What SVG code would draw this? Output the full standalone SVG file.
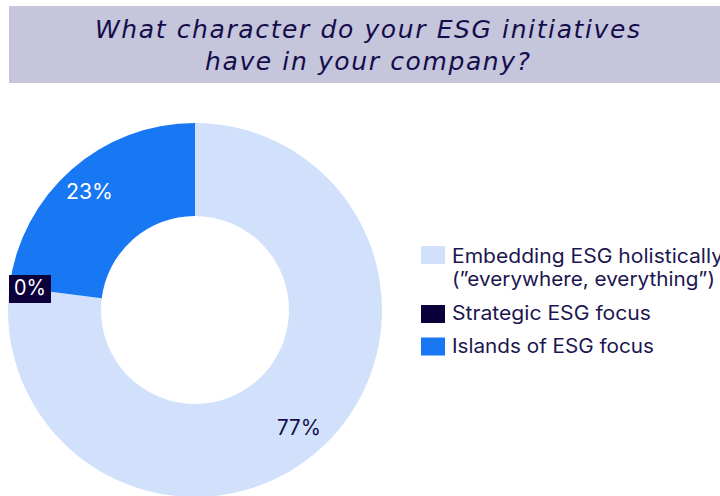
<svg xmlns="http://www.w3.org/2000/svg" width="720" height="496" viewBox="0 0 720 496">
  <style>
    .title { font-family: "DejaVu Sans", "Liberation Sans", sans-serif; font-style: italic; font-size: 25px; fill: #140d4a; }
    .leg { font-family: Inter, "Liberation Sans", sans-serif; font-size: 19.5px; fill: #1c1650; }
    .lbl { font-family: Inter, "Liberation Sans", sans-serif; font-size: 21px; }
    .light { fill: #d1e1fb; }
    .blue { fill: #1877f2; }
    .dark { fill: #0c003b; }
  </style>
  <rect width="720" height="496" fill="#ffffff"/>
  <g id="header">
    <rect x="9" y="6" width="711" height="77" fill="#c5c5dc"/>
    <text class="title" x="367.5" y="38" text-anchor="middle" textLength="545" lengthAdjust="spacing">What character do your ESG initiatives</text>
    <text class="title" x="367.5" y="70" text-anchor="middle" textLength="325" lengthAdjust="spacing">have in your company?</text>
  </g>
  <g id="chart">
    <g id="seg-embedding">
      <path class="light" d="M195,123 A187,187 0 1 1 9.47,286.56 L101.74,298.22 A94,94 0 1 0 195,216 Z"/>
      <text class="lbl" x="277" y="435" fill="#140d4a" textLength="44" lengthAdjust="spacingAndGlyphs">77%</text>
    </g>
    <g id="seg-islands">
      <path class="blue" d="M9.47,286.56 A187,187 0 0 1 195,123 L195,216 A94,94 0 0 0 101.74,298.22 Z"/>
      <text class="lbl" x="66" y="199" fill="#ffffff" textLength="47" lengthAdjust="spacingAndGlyphs">23%</text>
    </g>
    <g id="seg-strategic">
      <rect class="dark" x="9" y="275" width="42" height="28"/>
      <text class="lbl" x="14" y="295" fill="#ffffff" textLength="32" lengthAdjust="spacingAndGlyphs">0%</text>
    </g>
  </g>
  <g id="legend">
    <g id="legend-embedding">
      <rect class="light" x="421" y="246" width="24" height="18"/>
      <text class="leg" x="452" y="262.5" textLength="271" lengthAdjust="spacingAndGlyphs">Embedding ESG holistically</text>
      <text class="leg" x="452" y="285.5" textLength="263" lengthAdjust="spacingAndGlyphs">(”everywhere, everything”)</text>
    </g>
    <g id="legend-strategic">
      <rect class="dark" x="421" y="305" width="24" height="18"/>
      <text class="leg" x="452" y="320" textLength="199" lengthAdjust="spacingAndGlyphs">Strategic ESG focus</text>
    </g>
    <g id="legend-islands">
      <rect class="blue" x="421" y="337.5" width="24" height="18"/>
      <text class="leg" x="452" y="353" textLength="202" lengthAdjust="spacingAndGlyphs">Islands of ESG focus</text>
    </g>
  </g>
</svg>
